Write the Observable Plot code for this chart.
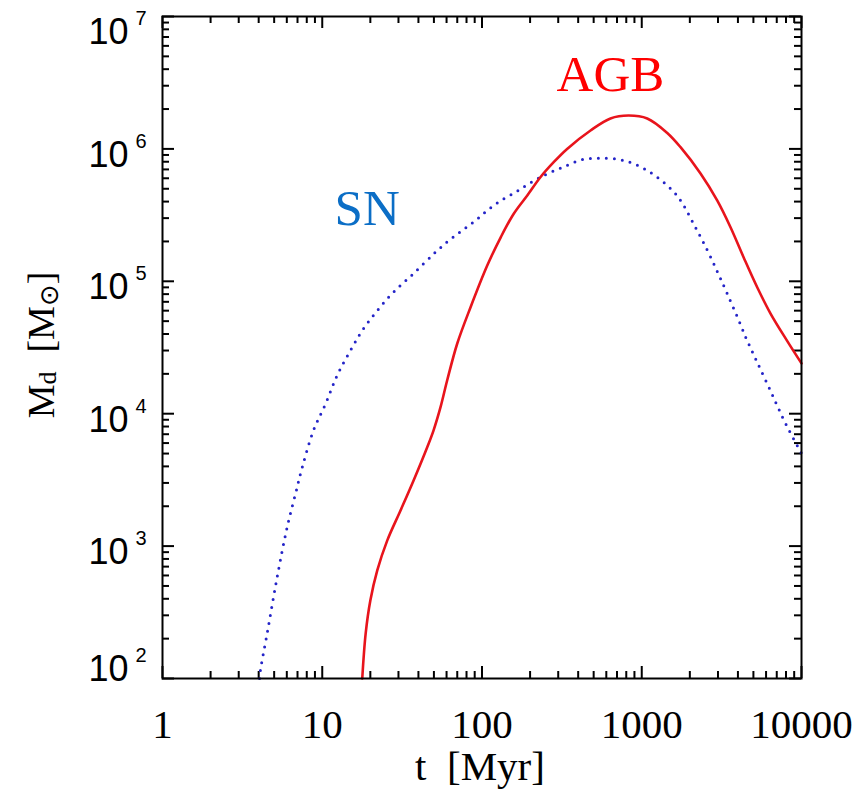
<!DOCTYPE html>
<html><head><meta charset="utf-8">
<script src="https://cdn.jsdelivr.net/npm/d3@7"></script>
<script src="https://cdn.jsdelivr.net/npm/@observablehq/plot@0.6"></script>
<style>body{margin:0;background:#fff}#chart svg{display:block}</style>
</head><body><div id="chart"></div>
<script>
// SN dust mass (dotted blue)
const snT = [4.05, 4.10, 4.52, 5.22, 6.03, 6.97, 7.3, 8.81, 10.5, 12.4, 15.0, 17.8, 22.1, 27.9, 37.3, 51.2, 62.0, 75.2, 91.0, 108, 131, 162, 196, 244, 303, 341, 426, 555, 773, 1082, 1515, 1749, 2110, 2570, 3020, 3426, 4000, 4500, 5000, 5540, 6300, 7045, 8000, 10000];
const snM = [100, 115, 219, 582, 1390, 2790, 3500, 7470, 11900, 19450, 30000, 42500, 60100, 82700, 114500, 166000, 203000, 242000, 288000, 343000, 407000, 471000, 545000, 630000, 708000, 750000, 832000, 851000, 817000, 687000, 502000, 408000, 272000, 172000, 113500, 80900, 52500, 37200, 28200, 21600, 15500, 11500, 8300, 5000];
// AGB dust mass (solid red)
const agbT = [17.8, 18.7, 20.0, 22.1, 25.5, 30.9, 37.3, 45.4, 49.7, 55.0, 60.5, 70.0, 84.8, 108, 131, 158, 192, 232, 281, 341, 478, 637, 826, 1082, 1444, 1749, 2333, 2966, 3594, 4339, 5280, 6400, 8130, 10000];
const agbM = [100, 219, 388, 655, 1100, 1857, 3130, 5580, 7460, 11200, 17800, 33900, 63700, 132000, 215000, 324000, 445000, 611000, 794000, 1000000, 1377000, 1698000, 1787000, 1698000, 1320000, 1030000, 652000, 408000, 256000, 152000, 90200, 57100, 35500, 24000];

const xMajor = [1, 10, 100, 1000, 10000];
const xLabels = ["1", "10", "100", "1000", "10000"];
const yMajor = [1e2, 1e3, 1e4, 1e5, 1e6, 1e7];
const yExp = ["2", "3", "4", "5", "6", "7"];
const minorK = [2, 3, 4, 5, 6, 7, 8, 9];

const labelText = ["AGB", "SN"];
const labelT = [637, 19.1];
const labelM = [2.76e6, 2.64e5];
const labelColor = ["#ff0000", "#0b6ec6"];

const W = 865, H = 795, mL = 162, mT = 16, mR = 64, mB = 117;
const pw = W - mL - mR, ph = H - mT - mB;
const xMinor = xMajor.slice(0, -1).flatMap(d => minorK.map(k => d * k));
const yMinor = yMajor.slice(0, -1).flatMap(d => minorK.map(k => d * k));

const sn = snT.map((t, i) => ({t, m: snM[i]}));
const agb = agbT.map((t, i) => ({t, m: agbM[i]}));
const yRows = yMajor.map((v, i) => ({v, e: yExp[i], i}));
const labels = labelText.map((s, i) => ({s, t: labelT[i], m: labelM[i], c: labelColor[i]}));

const tickStyle = {stroke: "#000", strokeWidth: 2};
const MAJ = 12, MIN = 7;

function yLabelMarks(rows, dy) {
  return [
    Plot.text(rows, {y: "v", text: () => "10", frameAnchor: "left", textAnchor: "end", dx: -34, lineAnchor: "bottom", dy: dy, fontSize: 36, fontFamily: "Liberation Sans", fill: "#000"}),
    Plot.text(rows, {y: "v", text: "e", frameAnchor: "left", textAnchor: "start", dx: -27, lineAnchor: "bottom", dy: dy - 19, fontSize: 20, fontFamily: "Liberation Sans", fill: "#000"})
  ];
}

const svg = Plot.plot({
  width: W, height: H,
  marginLeft: mL, marginTop: mT, marginRight: mR, marginBottom: mB,
  style: {background: "#fff", overflow: "visible"},
  x: {type: "log", domain: [1, 10000], axis: null},
  y: {type: "log", domain: [100, 1e7], axis: null},
  marks: [
    // ticks (inward, mirrored)
    Plot.ruleX(xMajor, {x: d => d, insetTop: ph - MAJ, ...tickStyle}),
    Plot.ruleX(xMajor, {x: d => d, insetBottom: ph - MAJ, ...tickStyle}),
    Plot.ruleX(xMinor, {x: d => d, insetTop: ph - MIN, ...tickStyle}),
    Plot.ruleX(xMinor, {x: d => d, insetBottom: ph - MIN, ...tickStyle}),
    Plot.ruleY(yMajor, {y: d => d, insetRight: pw - MAJ, ...tickStyle}),
    Plot.ruleY(yMajor, {y: d => d, insetLeft: pw - MAJ, ...tickStyle}),
    Plot.ruleY(yMinor, {y: d => d, insetRight: pw - MIN, ...tickStyle}),
    Plot.ruleY(yMinor, {y: d => d, insetLeft: pw - MIN, ...tickStyle}),
    // curves
    Plot.line(sn, {x: "t", y: "m", stroke: "#2424c8", strokeWidth: 3, strokeDasharray: "0 8", strokeLinecap: "round", curve: "catmull-rom"}),
    Plot.line(agb, {x: "t", y: "m", stroke: "#e8141c", strokeWidth: 2.6, curve: "catmull-rom"}),
    Plot.frame({stroke: "#000", strokeWidth: 2}),
    // x tick labels
    Plot.text(xMajor, {x: d => d, text: (d, i) => xLabels[i], frameAnchor: "bottom", lineAnchor: "bottom", dy: 59, fontSize: 41, fontFamily: "Liberation Serif", fill: "#000"}),
    // y tick labels
    ...yLabelMarks(yRows.filter(r => r.i === yRows.length - 1), 27),
    ...yLabelMarks(yRows.filter(r => r.i > 0 && r.i < yRows.length - 1), 18),
    ...yLabelMarks(yRows.filter(r => r.i === 0), 2),
    // series labels
    Plot.text(labels, {x: "t", y: "m", text: "s", fill: "c", lineAnchor: "bottom", fontSize: 51, fontFamily: "Liberation Serif"})
  ]
});

const s = d3.select(svg);
s.append("text")
  .attr("x", 480).attr("y", 780)
  .attr("text-anchor", "middle")
  .attr("font-family", "Liberation Serif").attr("font-size", 41).attr("fill", "#000")
  .style("white-space", "pre")
  .text("t\u2002[Myr]");

const yt = s.append("text")
  .attr("transform", "translate(54,345) rotate(-90)")
  .attr("text-anchor", "middle")
  .attr("font-family", "Liberation Serif").attr("font-size", 38).attr("fill", "#000")
  .style("white-space", "pre");
yt.append("tspan").text("M");
yt.append("tspan").attr("font-size", 26).attr("dy", 2).text("d");
yt.append("tspan").attr("dy", -2).text("\u2002[M");
yt.append("tspan").attr("font-size", 26).attr("font-family", "DejaVu Sans").attr("dy", 4).text("\u2299");
yt.append("tspan").attr("dy", -4).text("]");

document.getElementById("chart").appendChild(svg);
</script>
</body></html>
